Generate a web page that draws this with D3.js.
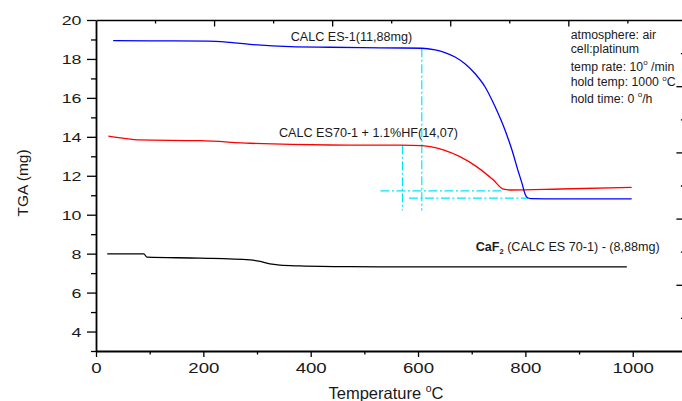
<!DOCTYPE html>
<html>
<head>
<meta charset="utf-8">
<script src="https://cdn.jsdelivr.net/npm/d3@7"></script>
<style>
  body { margin: 0; background: #fff; }
  svg { display: block; font-family: "Liberation Sans", Arial, sans-serif; }
</style>
</head>
<body>
<svg id="chart" width="682" height="401"></svg>
<script>
// TGA runs: temperature (°C) and sample mass (mg)
const es1Temp = [32, 100, 209, 250, 287, 362, 436, 529, 607, 632, 650, 669, 688, 706, 725, 743, 762, 775, 786, 794, 799, 804, 810, 865, 998];
const es1Mass = [18.94, 18.93, 18.92, 18.85, 18.75, 18.63, 18.60, 18.57, 18.55, 18.46, 18.33, 18.10, 17.74, 17.25, 16.56, 15.58, 14.35, 13.32, 12.29, 11.58, 11.09, 10.87, 10.83, 10.81, 10.81];

const es70Temp = [23, 50, 82, 194, 287, 436, 566, 607, 647, 678, 709, 740, 759, 771, 865, 998];
const es70Mass = [14.04, 13.93, 13.84, 13.80, 13.67, 13.58, 13.57, 13.55, 13.33, 12.98, 12.47, 11.79, 11.31, 11.27, 11.32, 11.40];

const caf2Temp = [21, 89, 95, 194, 287, 306, 324, 343, 380, 473, 566, 750, 989];
const caf2Mass = [7.99, 7.99, 7.82, 7.77, 7.68, 7.60, 7.47, 7.41, 7.37, 7.33, 7.32, 7.32, 7.32];

// Onset / end construction lines (dash-dot)
const onsetTemps = [571, 607];
const onsetTops = [13.57, 18.55];
const onsetBottom = 10.22;
const levelMasses = [11.22, 10.85];
const levelStarts = [530, 583];
const levelEnds = [758, 805];

// Axis ticks
const xMajor = [0, 200, 400, 600, 800, 1000];
const xMinor = [100, 300, 500, 700, 900];
const yMajor = [4, 6, 8, 10, 12, 14, 16, 18, 20];
const yMinor = [3, 5, 7, 9, 11, 13, 15, 17, 19];

const svg = d3.select("#chart");
const plotLeft = 96, plotRight = 686.4, plotTop = 20, plotBottom = 351;

const x = d3.scaleLinear().domain([0, 1100]).range([plotLeft, plotRight]);
const y = d3.scaleLinear().domain([3, 20]).range([plotBottom, plotTop]);
// secondary frame scales (time on top, auxiliary signal on right)
const xTop = d3.scaleLinear().domain([0, 100]).range([plotLeft, plotRight]);
const yRight = d3.scaleLinear().domain([0, 10]).range([plotBottom, plotTop]);

const textCol = "#1a1a1a";
const sx = 1.35;

// ---- axes ----
function styleAxis(g, w) {
  g.select(".domain").attr("stroke", "#000").attr("stroke-width", w);
  g.selectAll(".tick line").attr("stroke", "#000").attr("stroke-width", 1.3);
}
function minorStyle(g) {
  g.select(".domain").remove();
  g.selectAll("line").attr("stroke", "#000").attr("stroke-width", 1.3);
}

// left
const gl = svg.append("g").attr("transform", `translate(${plotLeft},0)`)
  .call(d3.axisLeft(y).tickValues(yMajor).tickSize(9).tickSizeOuter(0).tickFormat(d3.format("d")));
styleAxis(gl, 1.8);
gl.selectAll(".tick text")
  .attr("fill", textCol).attr("font-size", 13.2)
  .attr("font-family", '"Liberation Sans", Arial, sans-serif')
  .attr("transform", `scale(${sx},1)`)
  .attr("x", -14.5 / sx).attr("dy", "0.36em");
svg.append("g").attr("transform", `translate(${plotLeft},0)`)
  .call(d3.axisLeft(y).tickValues(yMinor).tickSize(5).tickSizeOuter(0).tickFormat(""))
  .call(minorStyle);

// bottom
const gb = svg.append("g").attr("transform", `translate(0,${plotBottom})`)
  .call(d3.axisBottom(x).tickValues(xMajor).tickSize(6).tickSizeOuter(0).tickFormat(d3.format("d")));
styleAxis(gb, 2);
gb.selectAll(".tick text")
  .attr("fill", textCol).attr("font-size", 13.8)
  .attr("font-family", '"Liberation Sans", Arial, sans-serif')
  .attr("transform", `scale(${sx},1)`)
  .attr("y", 22.5).attr("dy", 0);
svg.append("g").attr("transform", `translate(0,${plotBottom})`)
  .call(d3.axisBottom(x).tickValues(xMinor).tickSize(3.5).tickSizeOuter(0).tickFormat(""))
  .call(minorStyle);

// top (inward ticks)
const gt = svg.append("g").attr("transform", `translate(0,${plotTop})`)
  .call(d3.axisTop(xTop).tickValues([20, 40, 60, 80]).tickSize(-6.5).tickSizeOuter(0).tickFormat(""));
styleAxis(gt, 1.6);
svg.append("g").attr("transform", `translate(0,${plotTop})`)
  .call(d3.axisTop(xTop).tickValues([10, 30, 50, 70, 90]).tickSize(-3.5).tickSizeOuter(0).tickFormat(""))
  .call(minorStyle);

// right (inward ticks)
const gr = svg.append("g").attr("transform", `translate(${plotRight},0)`)
  .call(d3.axisRight(yRight).tickValues([2, 4, 6, 8]).tickSize(-10).tickSizeOuter(0).tickFormat(""));
styleAxis(gr, 1.6);
svg.append("g").attr("transform", `translate(${plotRight},0)`)
  .call(d3.axisRight(yRight).tickValues([1, 3, 5, 7, 9]).tickSize(-5.5).tickSizeOuter(0).tickFormat(""))
  .call(minorStyle);

// ---- construction lines ----
const dash = "9,2.5,2,2.5";
const guide = svg.append("g").attr("stroke", "#00e8f8").attr("stroke-width", 1.2)
  .attr("stroke-dasharray", dash).attr("fill", "none");
onsetTemps.forEach((t, i) => {
  guide.append("line").attr("x1", x(t)).attr("x2", x(t))
    .attr("y1", y(onsetTops[i])).attr("y2", y(onsetBottom));
});
levelMasses.forEach((m, i) => {
  guide.append("line").attr("x1", x(levelStarts[i])).attr("x2", x(levelEnds[i]))
    .attr("y1", y(m)).attr("y2", y(m));
});

// ---- curves ----
const line = d3.line().x(d => x(d[0])).y(d => y(d[1])).curve(d3.curveMonotoneX);
const series = [
  { t: caf2Temp, m: caf2Mass, color: "#000000" },
  { t: es70Temp, m: es70Mass, color: "#ff0000" },
  { t: es1Temp, m: es1Mass, color: "#0000ff" }
];
series.forEach(s => {
  svg.append("path")
    .datum(s.t.map((t, i) => [t, s.m[i]]))
    .attr("fill", "none").attr("stroke", s.color).attr("stroke-width", 1.3)
    .attr("d", line);
});

// ---- titles ----
svg.append("text")
  .attr("transform", "translate(28,183) rotate(-90)")
  .attr("text-anchor", "middle").attr("font-size", 15.5).attr("fill", textCol)
  .text("TGA (mg)");

const xt = svg.append("text").attr("x", 386).attr("y", 399)
  .attr("text-anchor", "middle").attr("font-size", 16.5).attr("fill", textCol);
xt.append("tspan").text("Temperature ");
xt.append("tspan").attr("font-size", 10.5).attr("dy", -7).text("o");
xt.append("tspan").attr("dy", 7).text("C");

// ---- curve labels ----
const lab = svg.append("g").attr("font-size", 12.6).attr("fill", textCol);
lab.append("text").attr("x", 290.7).attr("y", 40.7).text("CALC ES-1(11,88mg)");
lab.append("text").attr("x", 279).attr("y", 136.7).text("CALC ES70-1 + 1.1%HF(14,07)");
const caf = lab.append("text").attr("x", 475.7).attr("y", 250.7);
caf.append("tspan").attr("font-weight", "bold").text("CaF");
caf.append("tspan").attr("font-size", 7.5).attr("font-weight", "bold").attr("dy", 3).text("2");
caf.append("tspan").attr("dy", -3).text(" (CALC ES 70-1) - (8,88mg)");

// ---- run conditions ----
const cond = svg.append("g").attr("font-size", 12.3).attr("fill", textCol);
const cx0 = 570.7;
cond.append("text").attr("x", cx0).attr("y", 39.3).text("atmosphere: air");
cond.append("text").attr("x", cx0).attr("y", 53.3).text("cell:platinum");
function withDegree(yPos, before, after) {
  const t = cond.append("text").attr("x", cx0).attr("y", yPos);
  t.append("tspan").text(before);
  t.append("tspan").attr("font-size", 8).attr("dy", -5.5).text("o");
  t.append("tspan").attr("dy", 5.5).text(after);
}
withDegree(70.7, "temp rate: 10", " /min");
withDegree(86, "hold temp: 1000 ", "C");
withDegree(102.7, "hold time: 0 ", "/h");
</script>
</body>
</html>
